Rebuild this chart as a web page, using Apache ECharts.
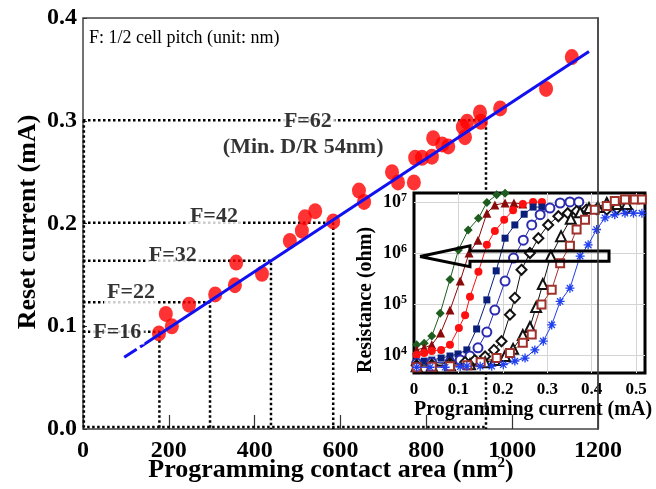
<!DOCTYPE html>
<html>
<head>
<meta charset="utf-8">
<script src="https://cdn.jsdelivr.net/npm/echarts/dist/echarts.min.js"></script>
<style>
  html, body { margin: 0; padding: 0; background: #fff; }
  #chart { width: 656px; height: 489px; }
</style>
</head>
<body>
<div id="chart"></div>
<script>
var SERIF = 'Liberation Serif';

// main plot: programming contact area (nm^2) vs reset current (mA)
var contactArea = [177, 193, 207, 247, 308, 354, 357, 417, 482, 510, 517, 541, 583, 643, 655, 720,
                   734, 771, 774, 790, 813, 816, 837, 851, 885, 890, 895, 925, 927, 972, 1079, 1139];
var resetCurrent = [0.093, 0.112, 0.100, 0.121, 0.131, 0.140, 0.162, 0.151, 0.183, 0.193, 0.206, 0.212,
                    0.202, 0.232, 0.221, 0.250, 0.240, 0.240, 0.264, 0.264, 0.265, 0.283, 0.277, 0.275,
                    0.294, 0.284, 0.299, 0.308, 0.299, 0.312, 0.331, 0.362];

// linear fit (dashed stub, then solid)
var fitArea = [96, 125, 133, 1179];
var fitReset = [0.0698, 0.0777, 0.0799, 0.3673];

// half cell pitch guides
var fNames = ['F=16', 'F=22', 'F=32', 'F=42', 'F=62'];
var fArea = [178, 296, 438, 583, 939];
var fReset = [0.0947, 0.1233, 0.1637, 0.2008, 0.3005];
var fLabelArea = [80, 112, 209, 305, 524];
var fLabelReset = [0.0939, 0.1328, 0.1687, 0.2073, 0.2995];

// inset: programming current (mA) vs log10 resistance (ohm)
var greenDiamond = [[0.006,4.20],[0.023,4.23],[0.040,4.37],[0.059,4.82],[0.081,5.48],[0.100,6.06],[0.122,6.45],[0.145,6.68],[0.164,6.99],[0.186,7.14],[0.205,7.17]];
var redTriangle = [[0.006,4.10],[0.023,4.14],[0.040,4.20],[0.060,4.43],[0.081,4.88],[0.104,5.45],[0.124,6.00],[0.144,6.25],[0.164,6.78],[0.182,6.94],[0.205,6.98],[0.225,6.98],[0.245,6.96]];
var redCircle = [[0.006,4.00],[0.023,4.04],[0.040,4.08],[0.061,4.10],[0.081,4.20],[0.101,4.53],[0.115,4.78],[0.126,5.14],[0.145,5.63],[0.164,6.16],[0.182,6.43],[0.203,6.65],[0.223,6.84],[0.245,6.96],[0.268,7.00],[0.288,7.00]];
var navySquare = [[0.006,3.86],[0.023,3.88],[0.040,3.90],[0.061,3.94],[0.081,3.98],[0.099,4.02],[0.119,4.10],[0.141,4.51],[0.164,5.08],[0.185,5.65],[0.205,6.29],[0.227,6.55],[0.248,6.76],[0.268,6.90],[0.288,6.90]];
var blueOpenCircle = [[0.006,3.84],[0.040,3.85],[0.081,3.86],[0.104,3.90],[0.126,3.98],[0.144,4.14],[0.164,4.45],[0.182,4.88],[0.205,5.45],[0.224,5.90],[0.246,6.25],[0.265,6.55],[0.284,6.75],[0.306,6.88],[0.329,6.98],[0.351,7.00],[0.371,7.00]];
var blackDiamond = [[0.006,3.80],[0.040,3.81],[0.081,3.84],[0.115,3.86],[0.137,3.90],[0.160,3.97],[0.180,4.10],[0.197,4.27],[0.216,4.79],[0.227,5.12],[0.242,5.67],[0.261,6.00],[0.280,6.29],[0.302,6.55],[0.325,6.72],[0.346,6.78],[0.366,6.82],[0.388,6.85],[0.411,6.86],[0.434,6.85],[0.457,6.87],[0.479,6.86]];
var blackTriangle = [[0.006,3.78],[0.040,3.79],[0.081,3.80],[0.126,3.82],[0.160,3.86],[0.182,3.90],[0.205,3.98],[0.223,4.12],[0.245,4.39],[0.261,4.55],[0.275,4.94],[0.290,5.39],[0.308,5.94],[0.331,6.33],[0.353,6.67],[0.374,6.80],[0.394,6.88],[0.414,6.90],[0.434,6.98],[0.457,6.96],[0.479,6.96]];
var brownSquare = [[0.006,3.76],[0.040,3.77],[0.081,3.78],[0.120,3.80],[0.150,3.86],[0.186,3.94],[0.216,4.04],[0.245,4.24],[0.265,4.40],[0.287,4.99],[0.310,5.28],[0.329,5.80],[0.351,6.14],[0.366,6.46],[0.385,6.65],[0.407,6.85],[0.434,6.92],[0.452,7.02],[0.475,7.05],[0.497,7.05],[0.513,7.05]];
var blueStar = [[0.006,3.76],[0.036,3.76],[0.070,3.76],[0.104,3.77],[0.119,3.78],[0.149,3.78],[0.175,3.78],[0.201,3.81],[0.227,3.88],[0.250,3.94],[0.272,4.10],[0.291,4.27],[0.310,4.59],[0.329,5.05],[0.351,5.31],[0.374,5.94],[0.392,6.16],[0.411,6.46],[0.430,6.69],[0.452,6.75],[0.475,6.78],[0.494,6.78],[0.513,6.78]];

// big open arrow in the inset
var arrowShape = [[0.0135,5.93],[0.126,6.14],[0.126,6.04],[0.439,6.04],[0.439,5.84],[0.126,5.84],[0.126,5.73],[0.0135,5.93]];

var chart = echarts.init(document.getElementById('chart'));

var series = [];

// dotted guide lines
for (var i = 0; i < fArea.length; i++) {
    series.push({
        type: 'line', xAxisIndex: 0, yAxisIndex: 0, z: 2, silent: true,
        symbol: 'none',
        lineStyle: { color: '#000', width: 2.5, type: [2.5, 2.5] },
        data: [[0, fReset[i]], [fArea[i], fReset[i]], [fArea[i], 0]]
    });
}
series.push({
    type: 'line', xAxisIndex: 0, yAxisIndex: 0, z: 2, silent: true,
    symbol: 'none',
    lineStyle: { color: '#000', width: 2.5, type: [2.5, 2.5] },
    data: [[2, fReset[4]], [2, 0.002], [fArea[4], 0.002]]
});

// data points
series.push({
    type: 'scatter', xAxisIndex: 0, yAxisIndex: 0, z: 3,
    symbol: 'circle', symbolSize: [14, 16],
    itemStyle: { color: '#ff0000' },
    data: contactArea.map(function (a, k) { return [a, resetCurrent[k]]; })
});

// fit line
series.push({
    type: 'line', xAxisIndex: 0, yAxisIndex: 0, z: 4, symbol: 'none',
    lineStyle: { color: '#1010f0', width: 3 },
    data: [[fitArea[0], fitReset[0]], [fitArea[1], fitReset[1]]]
});
series.push({
    type: 'line', xAxisIndex: 0, yAxisIndex: 0, z: 4, symbol: 'none',
    lineStyle: { color: '#1010f0', width: 3 },
    data: [[fitArea[2], fitReset[2]], [fitArea[3], fitReset[3]]]
});

// F labels
series.push({
    type: 'scatter', xAxisIndex: 0, yAxisIndex: 0, z: 5, silent: true,
    symbolSize: 1, itemStyle: { color: 'rgba(0,0,0,0)' },
    label: {
        show: true, position: 'inside',
        formatter: function (p) { return p.data[2]; },
        fontFamily: SERIF, fontWeight: 'bold', fontSize: 22, color: '#000',
        backgroundColor: '#fff', padding: [1, 3]
    },
    data: fNames.map(function (n, k) { return [fLabelArea[k], fLabelReset[k], n]; })
        .concat([[513, 0.2745, '(Min. D/R 54nm)']])
});

// inset curves
function curve(data, symbol, size, color, opts) {
    var s = {
        type: 'line', xAxisIndex: 1, yAxisIndex: 1, z: 7,
        symbol: symbol, symbolSize: size,
        lineStyle: { color: color, width: 1 },
        itemStyle: { color: color, borderWidth: 1 },
        data: data
    };
    if (opts) {
        for (var k in opts) s[k] = opts[k];
    }
    return s;
}
series.push(curve(greenDiamond, 'diamond', 9, '#1d5e20'));
series.push(curve(redTriangle, 'triangle', 9, '#8b0a0a'));
series.push(curve(redCircle, 'circle', 8, '#ff1010'));
series.push(curve(navySquare, 'rect', 7, '#0a1f7a'));
series.push(curve(blueOpenCircle, 'emptyCircle', 9, '#2b2bb0'));
series.push(curve(blackDiamond, 'emptyDiamond', 10, '#111'));
series.push(curve(blackTriangle, 'emptyTriangle', 10, '#111'));
series.push(curve(brownSquare, 'emptyRect', 8, '#a0302a'));
series.push(curve(blueStar, 'path://M5 0L5 10M0 5L10 5M1.5 1.5L8.5 8.5M1.5 8.5L8.5 1.5', 9, '#1f3ff0', {
    itemStyle: { color: 'rgba(0,0,0,0)', borderColor: '#1f3ff0', borderWidth: 1.3 }
}));

series.push({
    type: 'line', xAxisIndex: 1, yAxisIndex: 1, z: 8, symbol: 'none', silent: true,
    lineStyle: { color: '#000', width: 3, join: 'miter' },
    data: arrowShape
});

var boldLabel = { fontFamily: SERIF, fontWeight: 'bold', color: '#000' };

chart.setOption({
    animation: false,
    grid: [
        { left: 83, top: 18, width: 515, height: 411, show: true, borderColor: '#444', borderWidth: 1.5 },
        { left: 414, top: 193, width: 231, height: 180, show: true, backgroundColor: '#fff',
          borderColor: '#000', borderWidth: 3, z: 5 }
    ],
    xAxis: [
        {
            type: 'value', gridIndex: 0, min: 0, max: 1200, interval: 200,
            axisLine: { show: false },
            axisTick: { show: true, inside: true, length: 14, lineStyle: { color: '#333', width: 1.2 } },
            splitLine: { show: false },
            axisLabel: Object.assign({ fontSize: 24, margin: 10, formatter: function (v) { return String(v); } }, boldLabel)
        },
        {
            type: 'value', gridIndex: 1, min: 0, max: 0.52, interval: 0.1, z: 6,
            axisLine: { show: false }, axisTick: { show: false },
            splitLine: { show: true, showMinLine: false, showMaxLine: false, lineStyle: { color: '#d4d4d4', width: 1 } },
            axisLabel: Object.assign({
                fontSize: 17, margin: 8,
                formatter: function (v) {
                    var t = Math.round(v * 10);
                    if (Math.abs(v * 10 - t) > 1e-6) return '';
                    return t === 0 ? '0' : (t / 10).toFixed(1);
                }
            }, boldLabel)
        }
    ],
    yAxis: [
        {
            type: 'value', gridIndex: 0, min: 0, max: 0.4, interval: 0.1,
            axisLine: { show: false },
            axisTick: { show: true, inside: true, length: 4, lineStyle: { color: '#333' } },
            splitLine: { show: false },
            axisLabel: Object.assign({ fontSize: 24, margin: 6, formatter: function (v) { return v.toFixed(1); } }, boldLabel)
        },
        {
            type: 'value', gridIndex: 1, min: 3.647, max: 7.176, splitNumber: 3, z: 6,
            axisLine: { show: false }, axisTick: { show: false },
            splitLine: { show: true, showMinLine: false, showMaxLine: false, lineStyle: { color: '#d4d4d4', width: 1 } },
            axisLabel: {
                margin: 7,
                formatter: function (v) {
                    var t = Math.round(v);
                    if (Math.abs(v - t) > 1e-6) return '';
                    return '{b|10}{s|' + t + '}';
                },
                rich: {
                    b: { fontFamily: SERIF, fontWeight: 'bold', fontSize: 18, color: '#000' },
                    s: { fontFamily: SERIF, fontWeight: 'bold', fontSize: 12, color: '#000', padding: [0, 0, 9, 0] }
                }
            }
        },
        {
            // right frame line of the main plot, it shows through the inset
            type: 'value', gridIndex: 0, position: 'right', min: 0, max: 0.4, z: 10,
            axisLine: { show: true, lineStyle: { color: '#444', width: 1.5 } },
            axisTick: { show: false }, axisLabel: { show: false }, splitLine: { show: false }
        }
    ],
    graphic: [
        {
            type: 'text', x: 89, y: 38, z: 20,
            style: { text: 'F: 1/2 cell pitch (unit: nm)', fontFamily: SERIF, fontSize: 18,
                     fill: '#000', verticalAlign: 'middle', align: 'left' }
        },
        {
            type: 'text', x: 331, y: 470, z: 20,
            style: {
                text: '{a|Programming contact area (nm}{s|2}{a|)}',
                align: 'center', verticalAlign: 'middle',
                rich: {
                    a: { fontFamily: SERIF, fontWeight: 'bold', fontSize: 26, fill: '#000' },
                    s: { fontFamily: SERIF, fontWeight: 'bold', fontSize: 15, fill: '#000', padding: [0, 0, 14, 0] }
                }
            }
        },
        {
            type: 'text', x: 28, y: 222, z: 20, rotation: Math.PI / 2,
            style: { text: 'Reset current (mA)', fontFamily: SERIF, fontWeight: 'bold', fontSize: 26,
                     fill: '#000', align: 'center', verticalAlign: 'middle' }
        },
        {
            type: 'text', x: 366, y: 300, z: 20, rotation: Math.PI / 2,
            style: { text: 'Resistance (ohm)', fontFamily: SERIF, fontWeight: 'bold', fontSize: 20,
                     fill: '#000', align: 'center', verticalAlign: 'middle' }
        },
        {
            type: 'text', x: 533, y: 410, z: 20,
            style: { text: 'Programming current (mA)', fontFamily: SERIF, fontWeight: 'bold', fontSize: 20,
                     fill: '#000', align: 'center', verticalAlign: 'middle' }
        }
    ],
    series: series
});
</script>
</body>
</html>
